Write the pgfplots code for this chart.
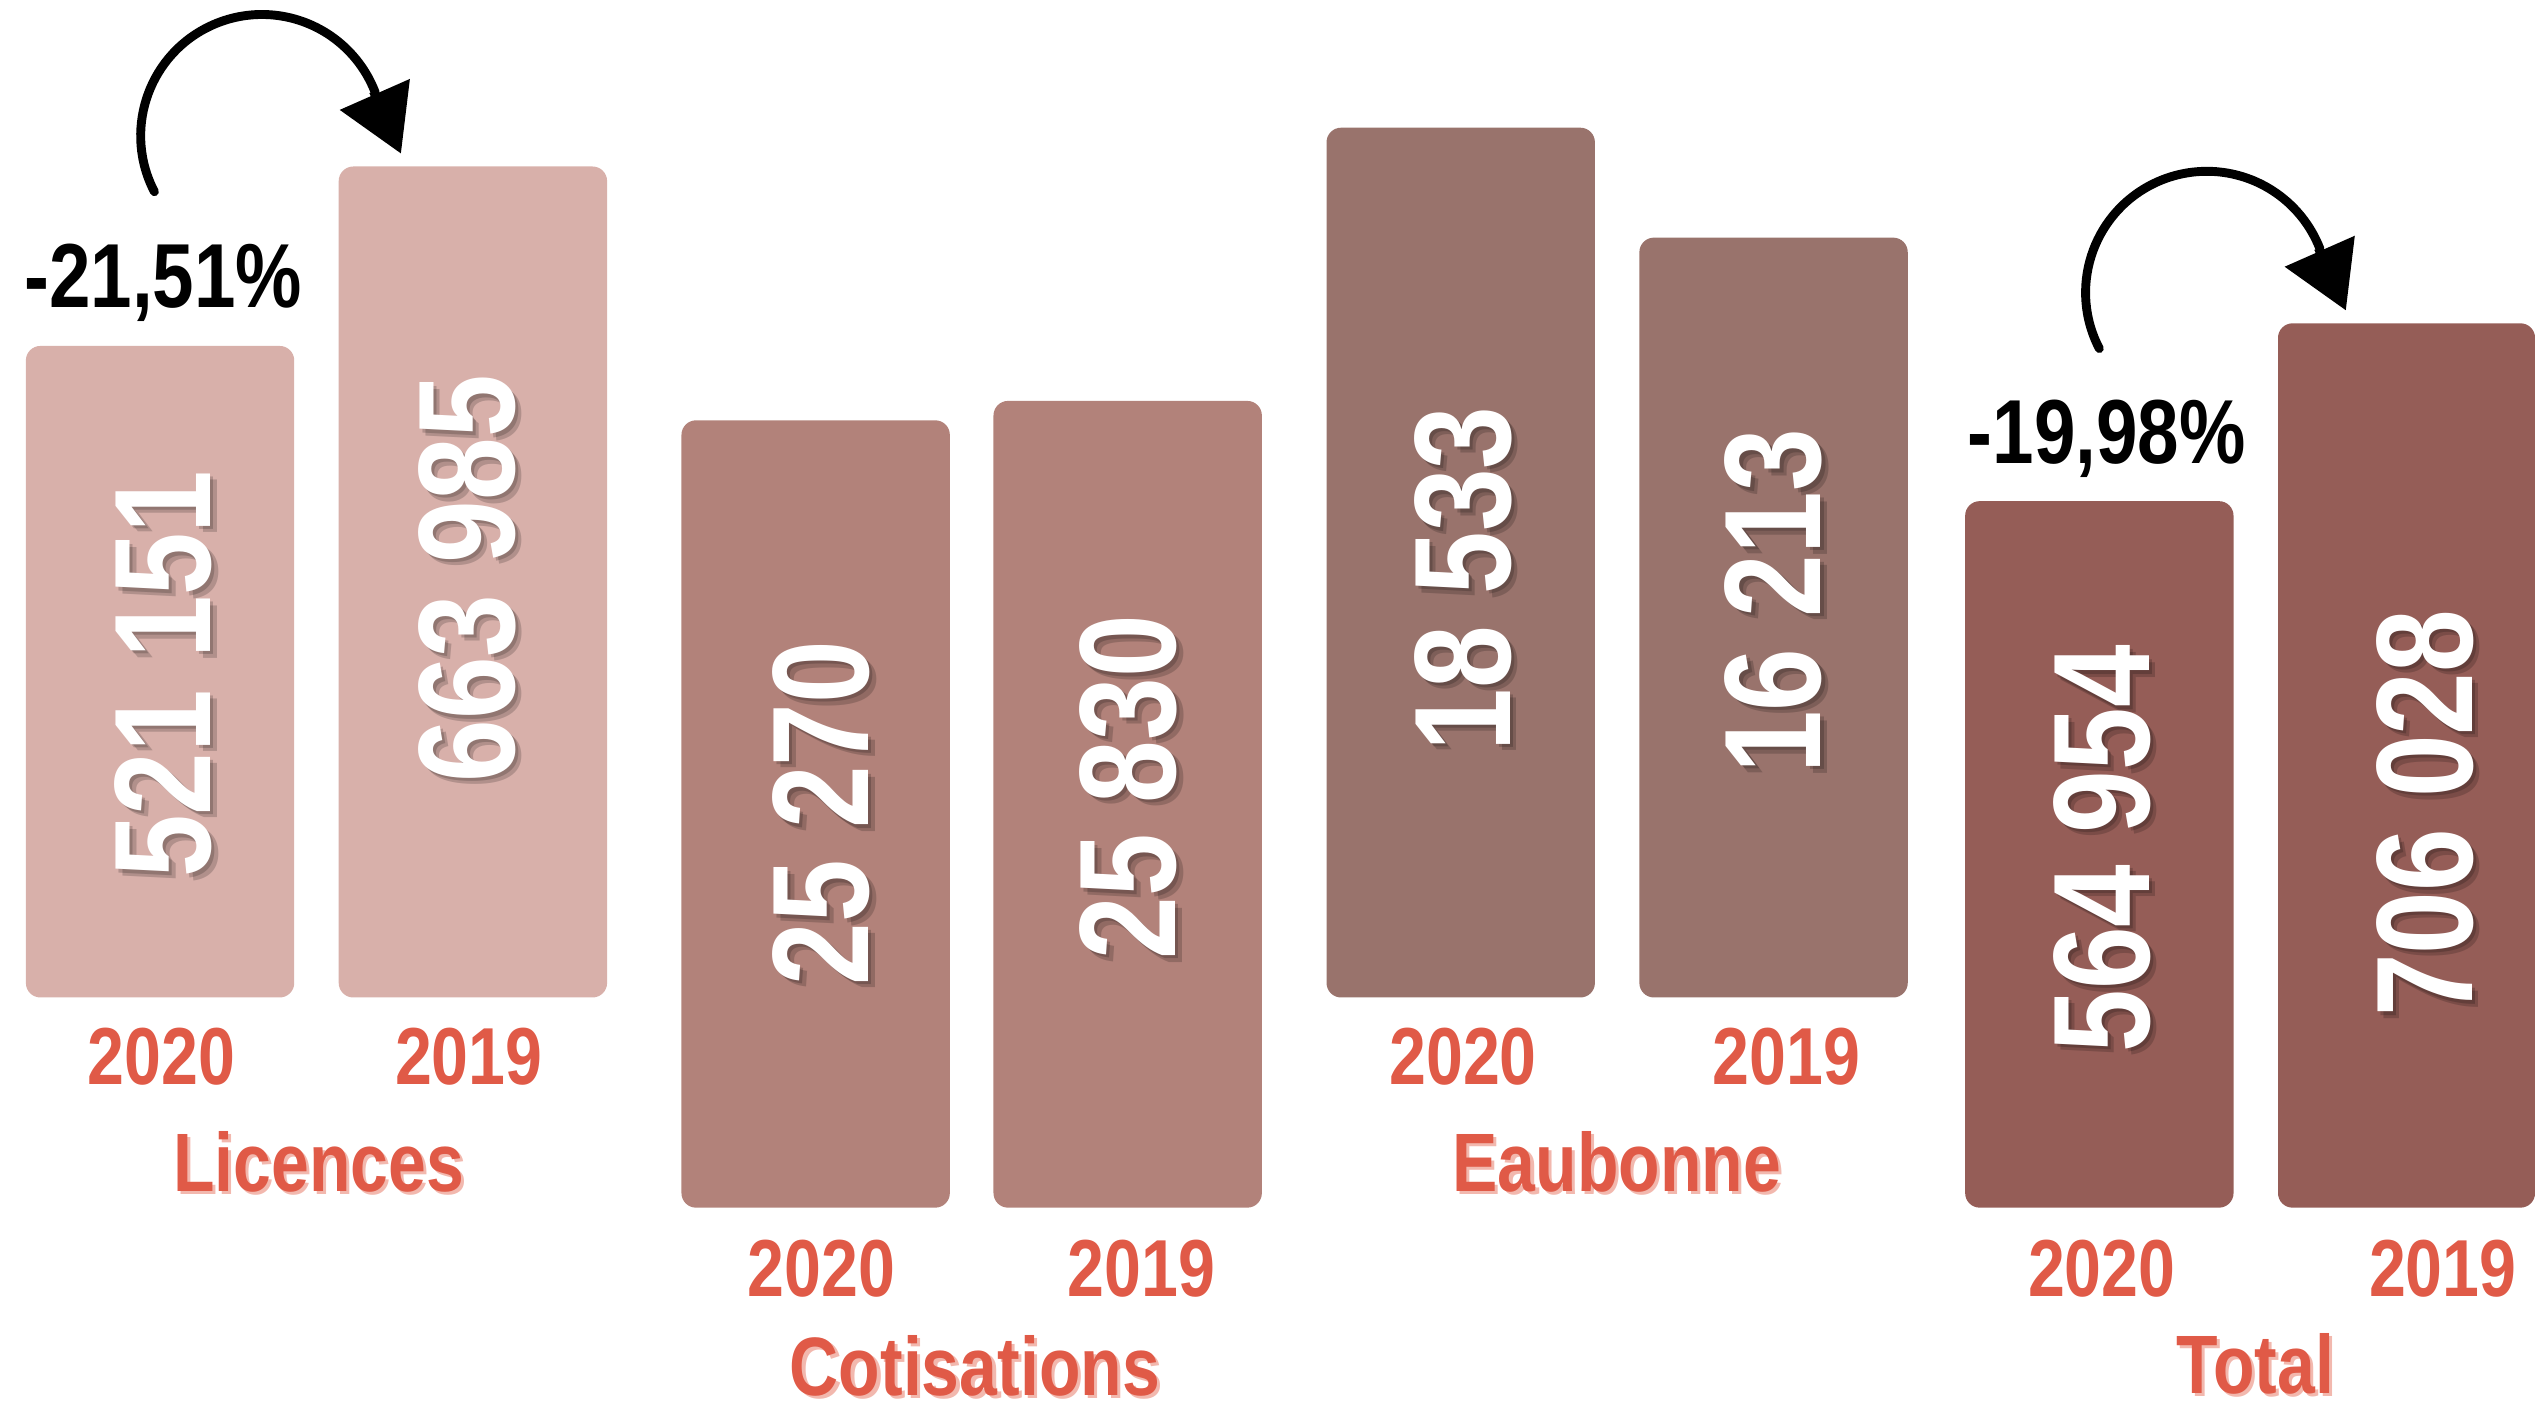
\documentclass[border=0pt]{standalone}
\usepackage{fontspec}
\setmainfont{Liberation Sans}[FakeStretch=0.82]
\usepackage{pgfplots}
\pgfplotsset{compat=1.18}
\usepackage{pgfplotstable}
\usetikzlibrary{arrows.meta}

\definecolor{licC}{HTML}{D8B0AA}
\definecolor{cotC}{HTML}{B2827A}
\definecolor{eauC}{HTML}{99736C}
\definecolor{totC}{HTML}{955D57}
\definecolor{redT}{HTML}{E05A47}
\definecolor{shadT}{HTML}{F2B8AE}

% one unit = one pixel of the 1568x871 layout
\pgfplotsset{
  panel/.style={hide axis, x=0.4pt, y=0.4pt, xmin=0, xmax=1568, ymin=20,
    anchor=south west, clip=true},
  bars/.style={ybar, bar shift=0pt, bar width=166, draw=none, rounded corners=3.6pt},
  vals/.style={draw=none, mark=none, nodes near coords, point meta=explicit symbolic,
    nodes near coords align=center,
    every node near coord/.style={anchor=center, rotate=90, text=white, inner sep=0pt,
      font=\fontsize{34}{34}\selectfont\bfseries}},
  shadow/.style={vals, every node near coord/.append style={text=black, opacity=0.18}},
}

% bar tops (visual height above the panel floor) and label positions
\pgfplotstableread[col sep=comma, row sep=\\]{
x,y,lab\\
101,220,521 151\\
289,279,663 985\\
905,279,18 533\\
1097,265,16 213\\
}\labA
\pgfplotstableread[col sep=comma, row sep=\\]{
x,y,lab\\
508,264,25 270\\
698,280,25 830\\
1300,242,564 954\\
1500,264,706 028\\
}\labB

\newcommand{\yr}[3]{\node[anchor=base, inner sep=0pt, text=redT, font=\fontsize{20}{20}\selectfont\bfseries] at (#1,#2) {#3};}
\newcommand{\cat}[3]{%
  \node[anchor=base, inner sep=0pt, text=shadT, font=\fontsize{20.5}{20.5}\selectfont\bfseries] at (#1+2,#2-2) {#3};
  \node[anchor=base, inner sep=0pt, text=redT, font=\fontsize{20.5}{20.5}\selectfont\bfseries] at (#1,#2) {#3};}

\begin{document}
\begin{tikzpicture}[x=0.4pt, y=0.4pt]
\path[use as bounding box] (0,0) rectangle (1568,871);

% Licences and Eaubonne, floor at y=617
\begin{axis}[panel, at={(0,254)}, ymax=637]
  \addplot[bars, fill=licC] coordinates {(99,423) (292.5,534)};
  \addplot[bars, fill=eauC] coordinates {(903.5,558) (1097,490)};
  \addplot[shadow] table[x expr=\thisrow{x}+2, y expr=\thisrow{y}-2, meta=lab] {\labA};
  \addplot[shadow] table[x expr=\thisrow{x}+4, y expr=\thisrow{y}-4, meta=lab] {\labA};
  \addplot[vals] table[x=x, y=y, meta=lab] {\labA};
\end{axis}

% Cotisations and Total, floor at y=747
\begin{axis}[panel, at={(0,124)}, ymax=767]
  \addplot[bars, fill=cotC] coordinates {(504.5,507) (697.5,519)};
  \addplot[bars, fill=totC] coordinates {(1298.5,457)};
  \addplot[bars, fill=totC, bar width=159] coordinates {(1488.5,567)};
  \addplot[shadow] table[x expr=\thisrow{x}+2, y expr=\thisrow{y}-2, meta=lab] {\labB};
  \addplot[shadow] table[x expr=\thisrow{x}+4, y expr=\thisrow{y}-4, meta=lab] {\labB};
  \addplot[vals] table[x=x, y=y, meta=lab] {\labB};
\end{axis}

% years and group names
\yr{100}{200}{2020} \yr{290}{200}{2019}
\yr{905}{200}{2020} \yr{1105}{200}{2019}
\yr{508}{69}{2020} \yr{706}{69}{2019}
\yr{1300}{69}{2020} \yr{1511}{69}{2019}
\cat{197}{134}{Licences}
\cat{1000}{134}{Eaubonne}
\cat{603}{8}{Cotisations}
\cat{1395}{9}{Total}

% change labels and arrows
\node[anchor=base, font=\fontsize{22.5}{22.5}\selectfont\bfseries] at (101,681) {-21,51\%};
\node[anchor=base, font=\fontsize{22.5}{22.5}\selectfont\bfseries] at (1303,584) {-19,98\%};
\foreach \dx/\dy in {0/0, 1203/-97} {
  \begin{scope}[shift={(\dx,\dy)}]
    \draw[line width=2.2pt, line cap=round] (95.5,752.4) arc[start angle=207.5, end angle=21, radius=30pt];
    \draw[line width=2.2pt, -{Triangle[length=16pt, width=18.4pt]}] (231,814.5) -- (248,776);
  \end{scope}
}
\end{tikzpicture}
\end{document}
